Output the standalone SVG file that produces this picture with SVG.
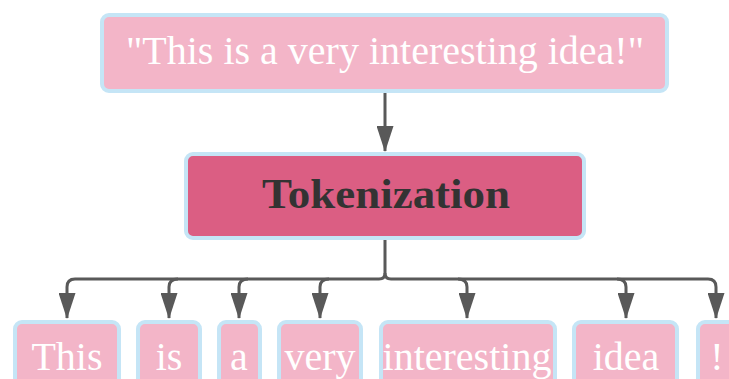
<svg xmlns="http://www.w3.org/2000/svg" width="729" height="379" viewBox="0 0 729 379">
<defs>
<style>
.box{fill:#F3B5C8;stroke:#C5E5F6;stroke-width:4}
.main{fill:#DB5E83;stroke:#C5E5F6;stroke-width:4}
.t{font-family:"Liberation Serif","DejaVu Serif",serif;fill:#FFFFFF;font-size:40px;text-anchor:middle}
.tm{font-family:"Liberation Serif","DejaVu Serif",serif;fill:#333333;font-size:42px;font-weight:bold;text-anchor:middle}
.c{fill:none;stroke:#595959;stroke-width:3}
</style>
<marker id="ah" viewBox="0 0 26 17" refX="25" refY="8.5" markerWidth="26" markerHeight="17" markerUnits="userSpaceOnUse" orient="auto">
<path d="M0,0 L26,8.5 L0,17 Z" fill="#595959"/>
</marker>
</defs>
<g id="connectors">
<path class="c" d="M385,93 V151" marker-end="url(#ah)"/>
<path class="c" d="M385,240 V273 Q385,279 379,279 H75 Q67,279 67,287 V318" marker-end="url(#ah)"/>
<path class="c" d="M178,279 Q169,279 169,287 V318" marker-end="url(#ah)"/>
<path class="c" d="M248,279 Q239,279 239,287 V318" marker-end="url(#ah)"/>
<path class="c" d="M329,279 Q320,279 320,287 V318" marker-end="url(#ah)"/>
<path class="c" d="M385,273 Q385,279 391,279 H708 Q716,279 716,287 V318" marker-end="url(#ah)"/>
<path class="c" d="M458,279 Q467,279 467,287 V318" marker-end="url(#ah)"/>
<path class="c" d="M617,279 Q626,279 626,287 V318" marker-end="url(#ah)"/>
</g>
<g id="node-sentence">
<rect class="box" x="102" y="15" width="565" height="76" rx="7"/>
<text class="t" x="385" y="64">"This is a very interesting idea!"</text>
</g>
<g id="node-tokenization">
<rect class="main" x="186" y="154" width="398" height="84" rx="7"/>
<text class="tm" x="386" y="208" textLength="248" lengthAdjust="spacingAndGlyphs">Tokenization</text>
</g>
<g id="node-this"><rect class="box" x="15" y="322" width="104" height="70" rx="7"/><text class="t" x="67" y="370">This</text></g>
<g id="node-is"><rect class="box" x="138" y="322" width="62" height="70" rx="7"/><text class="t" x="169" y="370">is</text></g>
<g id="node-a"><rect class="box" x="219" y="322" width="41" height="70" rx="7"/><text class="t" x="239" y="370">a</text></g>
<g id="node-very"><rect class="box" x="279" y="322" width="82" height="70" rx="7"/><text class="t" x="320" y="370">very</text></g>
<g id="node-interesting"><rect class="box" x="381" y="322" width="174" height="70" rx="7"/><text class="t" x="467" y="370">interesting</text></g>
<g id="node-idea"><rect class="box" x="574" y="322" width="103" height="70" rx="7"/><text class="t" x="626" y="370">idea</text></g>
<g id="node-excl"><rect class="box" x="698" y="322" width="60" height="70" rx="7"/><text class="t" x="717" y="370">!</text></g>
</svg>
